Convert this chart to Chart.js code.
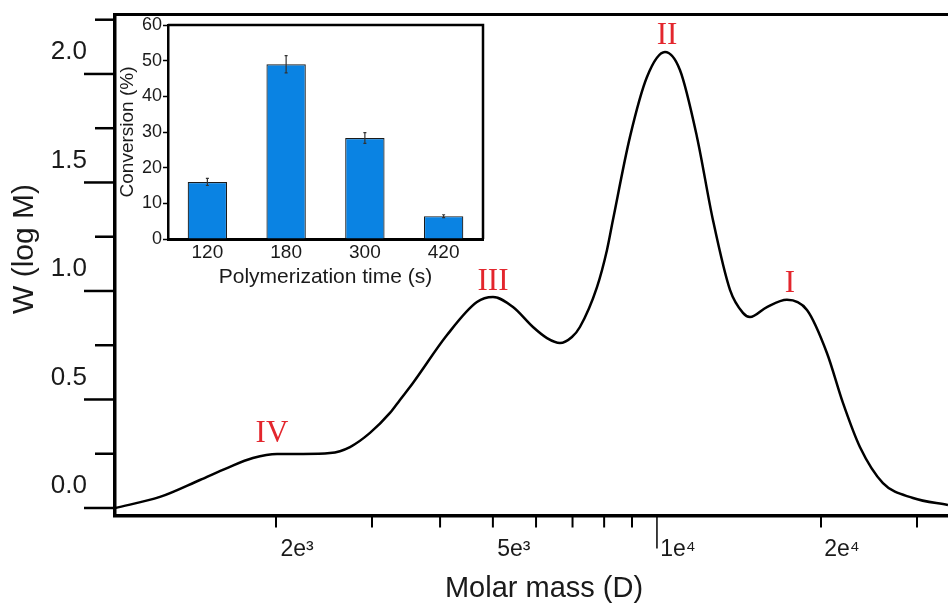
<!DOCTYPE html>
<html>
<head>
<meta charset="utf-8">
<title>Molar mass distribution</title>
<script src="https://cdn.jsdelivr.net/npm/chart.js@4.4.0/dist/chart.umd.min.js"></script>
<style>
  body { margin: 0; background: #fff; }
  #wrap { position: relative; width: 948px; height: 605px; }
  #gpc { position: absolute; left: 0; top: 0; }
  #inset { position: absolute; left: 118px; top: 10px; }
</style>
</head>
<body>
<div id="wrap">
  <canvas id="gpc" width="948" height="605"></canvas>
  <canvas id="inset" width="372" height="290"></canvas>
</div>
<script>
// main curve: molar mass (D) vs W(log M)
const molarMass = [1013, 1225, 1450, 1626, 1814, 2009, 2242, 2512, 2734, 2975, 3237, 3376, 3567, 4119, 4674, 5002, 5443, 5923, 6284, 6637, 6983, 7222, 7762, 8097, 8303, 8923, 9587, 10344, 11020, 11842, 12669, 13615, 14381, 14815, 15914, 17321, 18848, 20506, 21942, 23572, 25982, 29497, 34195];
const wLogM = [0.0, 0.051, 0.129, 0.184, 0.230, 0.249, 0.249, 0.253, 0.281, 0.346, 0.438, 0.498, 0.576, 0.797, 0.949, 0.972, 0.926, 0.834, 0.783, 0.760, 0.788, 0.834, 1.018, 1.189, 1.327, 1.710, 1.986, 2.101, 2.018, 1.710, 1.327, 1.005, 0.899, 0.880, 0.926, 0.959, 0.912, 0.714, 0.484, 0.281, 0.115, 0.046, 0.014];

const xTickValues = [2000, 3000, 4000, 5000, 6000, 7000, 8000, 9000, 10000, 20000, 30000];
const xTickLabels = ['2e³', '', '', '5e³', '', '', '', '', '1e⁴', '2e⁴', ''];
const yTickValues = [0, 0.25, 0.5, 0.75, 1.0, 1.25, 1.5, 1.75, 2.0, 2.25];
const yTickLabels = ['0.0', '', '0.5', '', '1.0', '', '1.5', '', '2.0', ''];

// peak names, placed at (mass, W) of their baseline
const peakNames = ['IV', 'III', 'II', 'I'];
const peakMass = [1966, 5002, 10432, 17538];
const peakW = [0.304, 1.005, 2.138, 0.995];

// inset: conversion vs polymerization time
const polyTimes = ['120', '180', '300', '420'];
const conversion = [16.0, 49.0, 28.3, 6.4];
const conversionErr = [1.0, 2.4, 1.5, 0.4];

const SANS = "'Liberation Sans', Arial, sans-serif";
const SERIF = "'Liberation Serif', 'Times New Roman', serif";

const gpcDecor = {
    id: 'gpcDecor',
    afterDraw(chart) {
        const ctx = chart.ctx;
        const area = chart.chartArea;
        const x = chart.scales.x;
        const y = chart.scales.y;
        ctx.save();
        ctx.strokeStyle = '#000';
        ctx.lineCap = 'butt';

        // y ticks, long on labelled values
        ctx.lineWidth = 2.5;
        yTickValues.forEach((v, i) => {
            const py = y.getPixelForValue(v);
            const len = yTickLabels[i] ? 31 : 20;
            ctx.beginPath();
            ctx.moveTo(area.left - len, py);
            ctx.lineTo(area.left, py);
            ctx.stroke();
        });

        // x ticks
        xTickValues.forEach((v) => {
            const px = x.getPixelForValue(v);
            const len = v === 10000 ? 33 : 12;
            ctx.lineWidth = v === 10000 ? 1.5 : 2;
            ctx.beginPath();
            ctx.moveTo(px, area.bottom);
            ctx.lineTo(px, area.bottom + len);
            ctx.stroke();
        });

        // top frame line
        ctx.lineWidth = 3;
        ctx.beginPath();
        ctx.moveTo(area.left - 1.5, area.top);
        ctx.lineTo(chart.width, area.top);
        ctx.stroke();

        // peak labels
        ctx.fillStyle = '#e3262d';
        ctx.font = '31px ' + SERIF;
        ctx.textAlign = 'center';
        ctx.textBaseline = 'alphabetic';
        peakNames.forEach((name, i) => {
            ctx.fillText(name, x.getPixelForValue(peakMass[i]), y.getPixelForValue(peakW[i]));
        });

        // axis titles
        ctx.fillStyle = '#1a1a1a';
        ctx.font = '29px ' + SANS;
        ctx.fillText('Molar mass (D)', 544, 597);
        ctx.translate(33, 249);
        ctx.rotate(-Math.PI / 2);
        ctx.font = '30px ' + SANS;
        ctx.fillText('W (log M)', 0, 0);
        ctx.restore();
    }
};

new Chart(document.getElementById('gpc'), {
    type: 'line',
    data: {
        datasets: [{
            data: molarMass.map((m, i) => ({ x: m, y: wLogM[i] })),
            borderColor: '#000',
            borderWidth: 2.5,
            pointRadius: 0,
            fill: false,
            cubicInterpolationMode: 'monotone'
        }]
    },
    options: {
        responsive: false,
        animation: false,
        layout: { padding: { top: 14.5, right: 0, bottom: 0, left: 0 } },
        plugins: { legend: { display: false }, tooltip: { enabled: false } },
        scales: {
            x: {
                type: 'logarithmic',
                min: 1013,
                max: 34200,
                afterBuildTicks: (s) => { s.ticks = xTickValues.map(v => ({ value: v })); },
                afterFit: (s) => { s.height = 89.5; },
                grid: { display: true, drawOnChartArea: false, color: 'transparent', tickLength: 12 },
                border: { color: '#000', width: 3.5 },
                ticks: {
                    autoSkip: false,
                    maxRotation: 0,
                    padding: 8,
                    labelOffset: 21,
                    color: '#1a1a1a',
                    font: { family: SANS, size: 23 },
                    callback: (v, i) => xTickLabels[i]
                }
            },
            y: {
                min: -0.0346,
                max: 2.274,
                afterBuildTicks: (s) => { s.ticks = yTickValues.map(v => ({ value: v })); },
                afterFit: (s) => { s.width = 115; },
                grid: { display: true, drawOnChartArea: false, color: 'transparent', tickLength: 31 },
                border: { color: '#000', width: 3.5 },
                ticks: {
                    padding: -3,
                    labelOffset: -22,
                    color: '#1a1a1a',
                    font: { family: SANS, size: 26 },
                    callback: (v, i) => yTickLabels[i]
                }
            }
        }
    },
    plugins: [gpcDecor]
});

/*Inset bar chart*/
const insetDecor = {
    id: 'insetDecor',
    afterDraw(chart) {
        const ctx = chart.ctx;
        const area = chart.chartArea;
        const x = chart.scales.x;
        const y = chart.scales.y;
        ctx.save();
        // error bars
        ctx.strokeStyle = '#333';
        ctx.lineWidth = 1.2;
        conversion.forEach((v, i) => {
            const px = x.getPixelForValue(i);
            const top = y.getPixelForValue(v + conversionErr[i]);
            const bot = y.getPixelForValue(v - conversionErr[i]);
            ctx.beginPath();
            ctx.moveTo(px, top);
            ctx.lineTo(px, bot);
            ctx.moveTo(px - 1.5, top);
            ctx.lineTo(px + 1.5, top);
            ctx.moveTo(px - 1.5, bot);
            ctx.lineTo(px + 1.5, bot);
            ctx.stroke();
        });
        // top and right frame
        ctx.strokeStyle = '#000';
        ctx.lineWidth = 2.5;
        ctx.beginPath();
        ctx.moveTo(area.left, area.top);
        ctx.lineTo(area.right, area.top);
        ctx.lineTo(area.right, area.bottom);
        ctx.stroke();
        ctx.restore();
    }
};

new Chart(document.getElementById('inset'), {
    type: 'bar',
    data: {
        labels: polyTimes,
        datasets: [{
            data: conversion,
            backgroundColor: '#0a83e3',
            borderColor: '#1a1a1a',
            borderWidth: 1.2,
            barPercentage: 0.5,
            categoryPercentage: 1
        }]
    },
    options: {
        responsive: false,
        animation: false,
        layout: { padding: { top: 15, right: 7, bottom: 0, left: 0 } },
        plugins: { legend: { display: false }, tooltip: { enabled: false } },
        scales: {
            x: {
                afterFit: (s) => { s.height = 61; },
                grid: { display: false, drawTicks: false },
                border: { color: '#000', width: 3 },
                ticks: { padding: 2, color: '#1a1a1a', font: { family: SANS, size: 19 } },
                title: {
                    display: true,
                    text: 'Polymerization time (s)',
                    color: '#1a1a1a',
                    font: { family: SANS, size: 21 },
                    padding: { top: 0, bottom: 10 }
                }
            },
            y: {
                min: 0,
                max: 60,
                afterFit: (s) => { s.width = 50; },
                grid: { display: true, drawOnChartArea: false, color: '#000', tickLength: 5, tickWidth: 1.5 },
                border: { color: '#000', width: 2.5 },
                ticks: { stepSize: 10, padding: 1, color: '#1a1a1a', font: { family: SANS, size: 18 } },
                title: {
                    display: true,
                    text: 'Conversion (%)',
                    color: '#1a1a1a',
                    font: { family: SANS, size: 19 },
                    padding: { top: -2, bottom: 0 }
                }
            }
        }
    },
    plugins: [insetDecor]
});
</script>
</body>
</html>
